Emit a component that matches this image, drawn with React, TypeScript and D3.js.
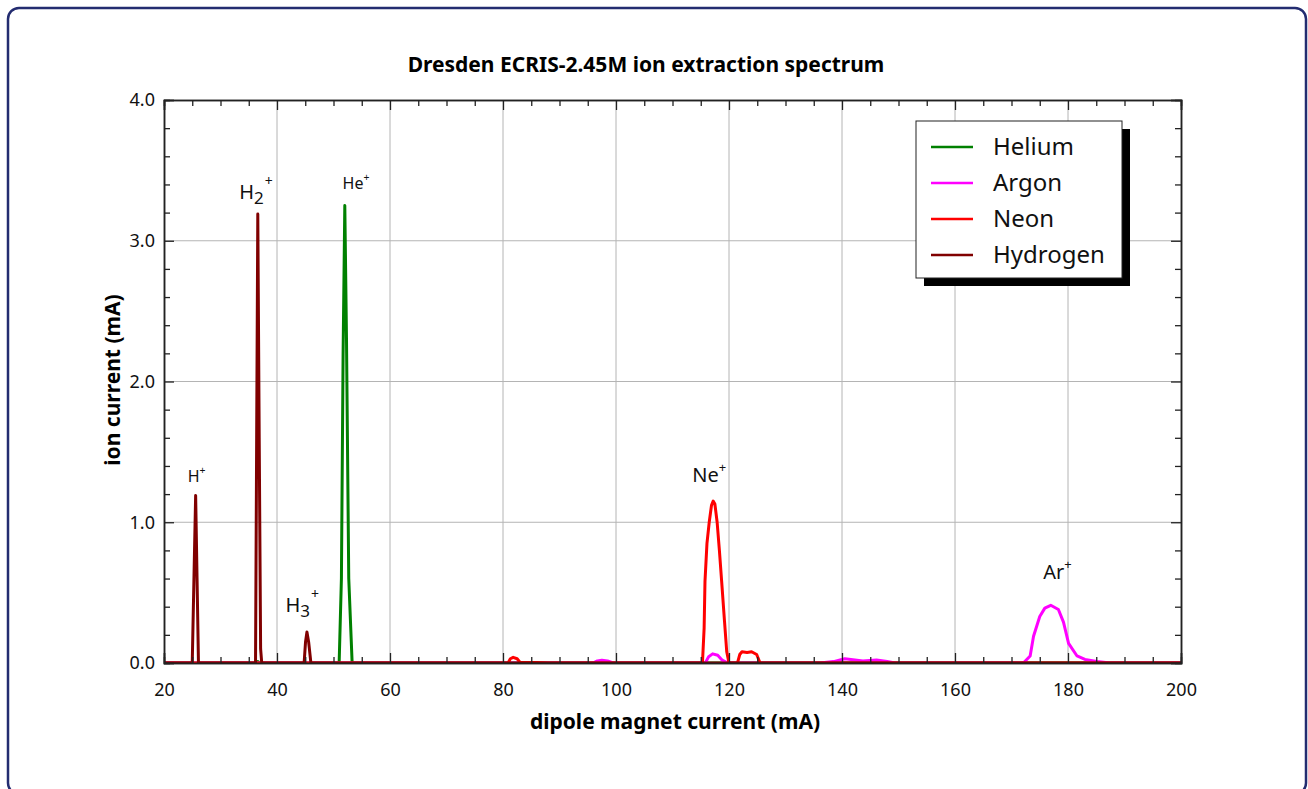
import { useRef, useEffect } from 'react';
import * as d3 from 'd3';

// dipole magnet current (mA) / ion current (mA)
const heliumX = [20, 36.2, 36.6, 37.0, 51.0, 51.4, 51.7, 52.0, 52.3, 52.7, 53.3, 200];
const heliumY = [0, 0, 0.01, 0, 0, 0.6, 2.2, 3.25, 2.3, 0.6, 0, 0];

const argonX = [20, 95.9, 96.7, 97.5, 98.5, 99.5, 115.8, 116.4, 117.1, 118.0, 118.8, 119.8,
  136.1, 138.5, 140.5, 142.3, 143.7, 146.1, 148.0, 149.4,
  172.1, 173.3, 173.9, 175.0, 175.9, 176.95, 178.3, 179.2, 180.1, 181.6, 183.0, 185.1, 187.5, 200];
const argonY = [0, 0, 0.015, 0.02, 0.015, 0, 0, 0.045, 0.065, 0.055, 0.02, 0,
  0, 0.01, 0.03, 0.022, 0.015, 0.022, 0.01, 0,
  0, 0.05, 0.19, 0.33, 0.39, 0.41, 0.38, 0.29, 0.14, 0.05, 0.025, 0.01, 0, 0];

const neonX = [20, 80.9, 81.3, 81.8, 82.5, 83.0, 86.0, 88.0,
  115.3, 115.6, 115.75, 116.1, 116.5, 116.9, 117.2, 117.5, 117.9, 118.3, 118.7, 119.2, 119.6, 120.0,
  121.5, 121.9, 122.3, 123.2, 124.0, 124.9, 125.5, 200];
const neonY = [0, 0, 0.03, 0.04, 0.03, 0.005, 0.004, 0,
  0, 0.25, 0.58, 0.85, 1.0, 1.12, 1.15, 1.13, 1.0, 0.8, 0.58, 0.3, 0.08, 0,
  0, 0.06, 0.08, 0.075, 0.08, 0.06, 0, 0];

const hydrogenX = [20, 25.0, 25.3, 25.6, 25.85, 26.1, 36.2, 36.4, 36.6, 36.85, 37.1, 37.3,
  44.8, 45.05, 45.3, 45.6, 46.0, 200];
const hydrogenY = [0, 0, 0.6, 1.19, 0.6, 0, 0, 1.6, 3.19, 1.6, 0.1, 0,
  0, 0.15, 0.22, 0.15, 0, 0];

const seriesNames = ['Helium', 'Argon', 'Neon', 'Hydrogen'];
const seriesColors = ['#008000', '#ff00ff', '#ff0000', '#800000'];

// peak labels: text, subscript, position in data units, font size
const peakLabels = ['H', 'H', 'He', 'H', 'Ne', 'Ar'];
const peakSubs = ['', '2', '', '3', '', ''];
const peakX = [24.2, 33.3, 51.6, 41.5, 113.5, 175.6];
const peakY = [1.286, 3.30, 3.366, 0.36, 1.284, 0.595];
const peakSize = [16, 20, 16, 20, 20, 20];

const xMajor = [20, 40, 60, 80, 100, 120, 140, 160, 180, 200];
const yMajor = [0, 1, 2, 3, 4];

export default function App() {
  const svgRef = useRef(null);

  const drawChart = () => {
    const svg = d3.select(svgRef.current);
    svg.selectAll('*').remove();
    const font = '"Noto Sans", "Open Sans", sans-serif';

    // outer frame (its bottom edge runs just past the picture)
    svg.append('rect')
      .attr('x', 8).attr('y', 8)
      .attr('width', 1298).attr('height', 786)
      .attr('rx', 11)
      .attr('fill', 'white')
      .attr('stroke', '#232c70')
      .attr('stroke-width', 2.5);

    const left = 164, right = 1181, top = 100, bottom = 663;
    const x = d3.scaleLinear().domain([20, 200]).range([left, right]);
    const y = d3.scaleLinear().domain([0, 4]).range([bottom, top]);

    const xMinor = d3.range(20, 201, 5).filter(v => !xMajor.includes(v));
    const yMinor = d3.range(0, 4.01, 0.2).filter(v => Math.abs(v - Math.round(v)) > 0.01);

    // grid
    svg.append('g').selectAll('line').data(xMajor.slice(1, -1)).enter().append('line')
      .attr('x1', d => x(d)).attr('x2', d => x(d))
      .attr('y1', top).attr('y2', bottom)
      .attr('stroke', '#b4b4b4').attr('stroke-width', 1);
    svg.append('g').selectAll('line').data(yMajor.slice(1, -1)).enter().append('line')
      .attr('x1', left).attr('x2', right)
      .attr('y1', d => y(d)).attr('y2', d => y(d))
      .attr('stroke', '#b4b4b4').attr('stroke-width', 1);

    // curves
    svg.append('clipPath').attr('id', 'plotclip').append('rect')
      .attr('x', left).attr('y', top - 2).attr('width', right - left).attr('height', bottom - top + 2);
    const line = d3.line<[number, number]>().x(d => x(d[0])).y(d => y(d[1]));
    const allX = [heliumX, argonX, neonX, hydrogenX];
    const allY = [heliumY, argonY, neonY, hydrogenY];
    allX.forEach((xs, i) => {
      const pts = xs.map((v, j) => [v, allY[i][j]] as [number, number]);
      svg.append('path')
        .attr('d', line(pts))
        .attr('clip-path', 'url(#plotclip)')
        .attr('fill', 'none')
        .attr('stroke', seriesColors[i])
        .attr('stroke-width', 3)
        .attr('stroke-linejoin', 'round');
    });

    // axes, ticks pointing inward on all four sides
    const styleAxis = (g) => {
      g.selectAll('.domain').attr('stroke', '#222').attr('stroke-width', 1.5);
      g.selectAll('.tick line').attr('stroke', '#222').attr('stroke-width', 1.3);
      g.selectAll('text').style('font-family', font).style('font-size', '18px').attr('fill', '#111');
    };
    svg.append('g').attr('transform', `translate(0,${bottom})`)
      .call(d3.axisBottom(x).tickValues(xMajor).tickSize(-10).tickPadding(20).tickFormat(d3.format('d')))
      .call(styleAxis);
    svg.append('g').attr('transform', `translate(0,${bottom})`)
      .call(d3.axisBottom(x).tickValues(xMinor).tickSize(-6).tickFormat(() => ''))
      .call(styleAxis);
    svg.append('g').attr('transform', `translate(0,${top})`)
      .call(d3.axisTop(x).tickValues(xMajor).tickSize(-10).tickFormat(() => ''))
      .call(styleAxis);
    svg.append('g').attr('transform', `translate(0,${top})`)
      .call(d3.axisTop(x).tickValues(xMinor).tickSize(-6).tickFormat(() => ''))
      .call(styleAxis);
    svg.append('g').attr('transform', `translate(${left},0)`)
      .call(d3.axisLeft(y).tickValues(yMajor).tickSize(-10).tickPadding(9).tickFormat(d3.format('.1f')))
      .call(styleAxis);
    svg.append('g').attr('transform', `translate(${left},0)`)
      .call(d3.axisLeft(y).tickValues(yMinor).tickSize(-6).tickFormat(() => ''))
      .call(styleAxis);
    svg.append('g').attr('transform', `translate(${right},0)`)
      .call(d3.axisRight(y).tickValues(yMajor).tickSize(-10).tickFormat(() => ''))
      .call(styleAxis);
    svg.append('g').attr('transform', `translate(${right},0)`)
      .call(d3.axisRight(y).tickValues(yMinor).tickSize(-6).tickFormat(() => ''))
      .call(styleAxis);

    // titles
    svg.append('text')
      .attr('x', 646).attr('y', 72)
      .attr('text-anchor', 'middle')
      .style('font-family', font).style('font-size', '21px').style('font-weight', 'bold')
      .text('Dresden ECRIS-2.45M ion extraction spectrum');
    svg.append('text')
      .attr('x', 675).attr('y', 729)
      .attr('text-anchor', 'middle')
      .style('font-family', font).style('font-size', '21px').style('font-weight', 'bold')
      .text('dipole magnet current (mA)');
    svg.append('text')
      .attr('transform', `translate(120,380) rotate(-90)`)
      .attr('text-anchor', 'middle')
      .style('font-family', font).style('font-size', '21px').style('font-weight', 'bold')
      .text('ion current (mA)');

    // peak labels
    peakLabels.forEach((lab, i) => {
      const fs = peakSize[i];
      const t = svg.append('text')
        .attr('x', x(peakX[i])).attr('y', y(peakY[i]))
        .style('font-family', font).style('font-size', fs + 'px').attr('fill', '#111');
      t.append('tspan').text(lab);
      if (peakSubs[i]) {
        t.append('tspan').attr('dy', fs * 0.25).style('font-size', (fs * 0.85) + 'px').text(peakSubs[i]);
        t.append('tspan').attr('dy', -fs * 0.9).attr('dx', 1).style('font-size', (fs * 0.7) + 'px').text('+');
      } else {
        t.append('tspan').attr('dy', -fs * 0.5).style('font-size', (fs * 0.65) + 'px').text('+');
      }
    });

    // legend with drop shadow
    const lg = svg.append('g').attr('transform', 'translate(916,121)');
    lg.append('rect').attr('x', 8).attr('y', 8).attr('width', 206).attr('height', 157).attr('fill', '#000');
    lg.append('rect').attr('width', 206).attr('height', 157)
      .attr('fill', 'white').attr('stroke', '#222').attr('stroke-width', 1);
    seriesNames.forEach((name, i) => {
      const cy = 26 + i * 36;
      lg.append('line').attr('x1', 15).attr('x2', 57).attr('y1', cy).attr('y2', cy)
        .attr('stroke', seriesColors[i]).attr('stroke-width', 2.5);
      lg.append('text').attr('x', 77).attr('y', cy).attr('dy', '0.35em')
        .style('font-family', font).style('font-size', '24px').attr('fill', '#111')
        .text(name);
    });
  };

  useEffect(() => {
    drawChart();
  }, []);

  return (
    <div style={{ position: 'absolute', left: 0, top: 0 }}>
      <svg ref={svgRef} width={1308} height={789} style={{ display: 'block' }}></svg>
    </div>
  );
}
